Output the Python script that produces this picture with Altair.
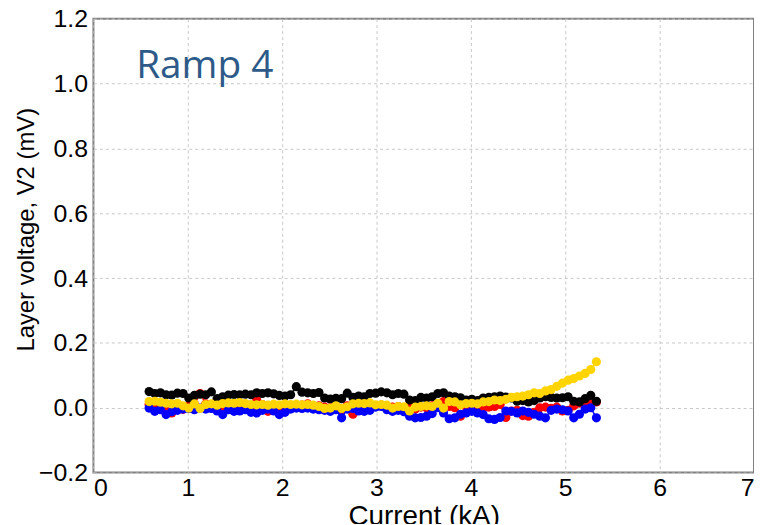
import altair as alt
import pandas as pd

current_kA = [
    0.59, 0.65, 0.71, 0.77, 0.83, 0.89, 0.95, 1.01, 1.07, 1.13,
    1.19, 1.25, 1.31, 1.37, 1.43, 1.49, 1.55, 1.61, 1.67, 1.73,
    1.79, 1.85, 1.91, 1.97, 2.03, 2.09, 2.15, 2.21, 2.27, 2.33,
    2.39, 2.45, 2.51, 2.57, 2.63, 2.69, 2.75, 2.81, 2.87, 2.93,
    2.99, 3.05, 3.11, 3.17, 3.23, 3.29, 3.35, 3.41, 3.47, 3.53,
    3.59, 3.65, 3.71, 3.77, 3.83, 3.89, 3.95, 4.01, 4.07, 4.13,
    4.19, 4.25, 4.31, 4.37, 4.43, 4.49, 4.55, 4.61, 4.67, 4.73,
    4.79, 4.85, 4.91, 4.97, 5.03, 5.09, 5.15, 5.21, 5.27, 5.33,
]

v_red = [
    0.010, 0.005, 0.000, -0.010, -0.016, 0.002, -0.005, 0.006, 0.010, 0.044,
    0.012, 0.008, -0.004, 0.004, 0.006, 0.008, 0.002, 0.006, 0.004, 0.024,
    0.010, -0.011, 0.002, 0.004, -0.011, 0.004, 0.006, 0.008, 0.012, 0.004,
    0.006, 0.002, 0.000, 0.004, -0.008, 0.006, -0.020, 0.004, 0.002, 0.004,
    0.006, 0.008, -0.004, 0.002, 0.004, -0.008, 0.004, -0.004, 0.002, 0.000,
    0.006, 0.012, 0.019, 0.004, 0.000, -0.026, 0.002, 0.004, 0.008, 0.000,
    0.002, 0.004, 0.010, -0.030, -0.010, -0.008, -0.024, -0.026, -0.014, 0.000,
    0.002, -0.002, 0.002, -0.010, -0.008, 0.006, 0.014, 0.016, 0.012, 0.018,
]

v_blue = [
    -0.001, -0.011, -0.006, -0.021, -0.012, -0.008, -0.004, -0.002, -0.006, -0.001,
    -0.004, -0.002, -0.010, -0.021, -0.006, -0.011, -0.010, -0.006, -0.014, -0.016,
    -0.008, -0.004, -0.010, -0.021, -0.014, -0.004, -0.001, -0.002, -0.001, -0.004,
    -0.006, -0.008, -0.011, -0.006, -0.031, -0.004, -0.002, -0.010, -0.011, -0.008,
    0.002, 0.004, -0.006, -0.011, -0.008, -0.012, -0.026, -0.031, -0.030, -0.026,
    -0.018, 0.000, -0.016, -0.034, -0.031, -0.020, -0.016, -0.011, -0.016, -0.021,
    -0.034, -0.036, -0.030, -0.010, -0.011, -0.016, -0.010, -0.014, -0.020, -0.026,
    -0.031, -0.008, -0.004, -0.006, -0.010, -0.031, -0.020, -0.004, 0.000, -0.031,
]

v_black = [
    0.050, 0.044, 0.046, 0.040, 0.039, 0.045, 0.044, 0.030, 0.038, 0.042,
    0.040, 0.049, 0.028, 0.034, 0.039, 0.041, 0.040, 0.042, 0.040, 0.046,
    0.044, 0.046, 0.043, 0.038, 0.036, 0.040, 0.065, 0.048, 0.046, 0.044,
    0.047, 0.030, 0.027, 0.029, 0.028, 0.045, 0.032, 0.036, 0.034, 0.044,
    0.045, 0.049, 0.046, 0.040, 0.044, 0.042, 0.024, 0.022, 0.032, 0.030,
    0.034, 0.044, 0.046, 0.036, 0.034, 0.031, 0.024, 0.026, 0.022, 0.030,
    0.032, 0.034, 0.036, 0.033, 0.030, 0.020, 0.022, 0.018, 0.022, 0.030,
    0.034, 0.032, 0.030, 0.031, 0.034, 0.020, 0.018, 0.028, 0.038, 0.020,
]

v_yellow = [
    0.019, 0.020, 0.017, 0.014, 0.012, 0.014, 0.006, -0.001, 0.012, -0.002,
    0.010, 0.012, 0.008, 0.013, 0.015, 0.014, 0.016, 0.013, 0.010, 0.009,
    0.010, 0.008, 0.011, 0.009, 0.012, 0.010, 0.011, 0.009, 0.010, 0.008,
    0.004, -0.002, -0.001, 0.006, -0.002, 0.003, 0.012, 0.014, 0.013, 0.015,
    0.009, 0.010, 0.008, -0.001, 0.004, 0.003, -0.010, 0.002, 0.004, 0.006,
    0.004, 0.014, -0.001, 0.019, 0.018, 0.009, 0.013, 0.014, 0.012, 0.018,
    0.019, 0.024, 0.022, 0.026, 0.032, 0.034, 0.036, 0.040, 0.046, 0.044,
    0.052, 0.056, 0.066, 0.076, 0.085, 0.090, 0.098, 0.106, 0.118, 0.142,
]

series = [
    ("red", v_red, "#ff0000"),
    ("blue", v_blue, "#0000ff"),
    ("black", v_black, "#000000"),
    ("yellow", v_yellow, "#ffd400"),
]

FONT = "Liberation Sans"

x_scale = alt.Scale(domain=[0, 7], nice=False, zero=False)
y_scale = alt.Scale(domain=[-0.2, 1.2], nice=False, zero=False)

x_axis = alt.Axis(
    title="Current (kA)", values=[0, 1, 2, 3, 4, 5, 6, 7], format="d",
    grid=True, gridDash=[3, 3], gridColor="#c8c8c8", gridWidth=1,
    domain=False, ticks=False, labelPadding=3,
    labelFont=FONT, labelFontSize=25, labelColor="#000000",
    titleFont=FONT, titleFontSize=28, titleFontWeight="normal",
    titleColor="#000000", titlePadding=2,
)
y_axis = alt.Axis(
    title="Layer voltage, V2 (mV)",
    values=[-0.2, 0.0, 0.2, 0.4, 0.6, 0.8, 1.0, 1.2], format=".1f",
    grid=True, gridDash=[3, 3], gridColor="#c8c8c8", gridWidth=1,
    domain=False, ticks=False, labelPadding=6,
    labelFont=FONT, labelFontSize=25, labelColor="#000000",
    titleFont=FONT, titleFontSize=24, titleFontWeight="normal",
    titleColor="#000000", titlePadding=0, titleY=212,
)

layers = []
for name, vals, color in series:
    df = pd.DataFrame({"current": current_kA, "voltage": vals})
    enc = dict(
        x=alt.X("current:Q", scale=x_scale, axis=x_axis),
        y=alt.Y("voltage:Q", scale=y_scale, axis=y_axis),
    )
    line = alt.Chart(df).mark_line(color=color, strokeWidth=1.5).encode(**enc)
    pts = alt.Chart(df).mark_circle(color=color, size=85, opacity=1).encode(**enc)
    layers += [line, pts]

label = alt.Chart(pd.DataFrame({"t": ["Ramp 4"]})).mark_text(
    font="Open Sans", fontSize=39, color="#2d5a88", align="left",
    baseline="alphabetic",
).encode(text="t:N", x=alt.value(43), y=alt.value(60))

chart = alt.layer(*layers, label).properties(
    width=665, height=457,
    padding={"left": 86, "top": 9, "right": 0, "bottom": 50},
    autosize=alt.AutoSizeParams(type="none"),
).configure_view(stroke="#808080", strokeWidth=2)

chart.save("out.html", embed_options={"renderer": "svg", "actions": False})
